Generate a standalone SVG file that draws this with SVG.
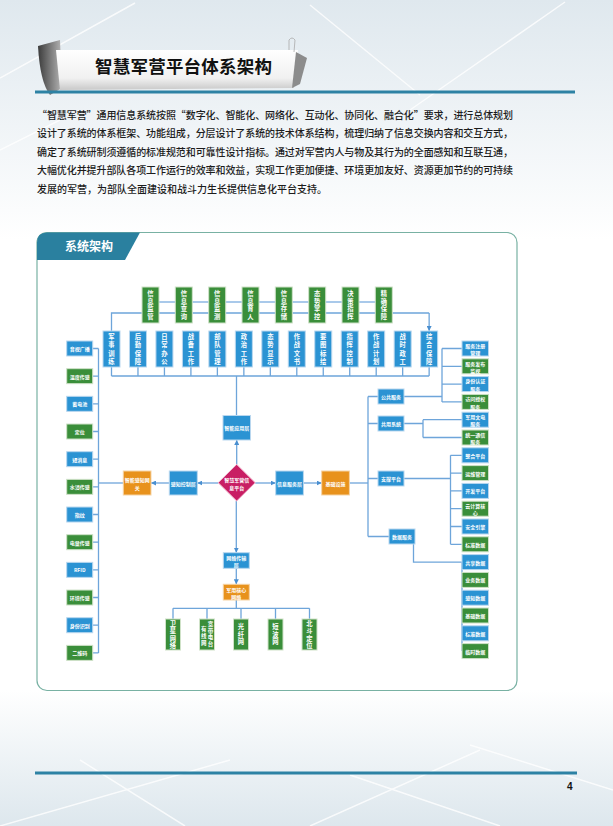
<svg xmlns="http://www.w3.org/2000/svg" width="613" height="826" viewBox="0 0 613 826">
<defs>
<style>
.b{fill:#2b93d3;stroke:#b9d7ef;stroke-width:1}
.g{fill:#3a8e3a;stroke:#cfe2c8;stroke-width:1}
.o{fill:#e8921c;stroke:#f6d3a3;stroke-width:1}
.m{fill:#c81e64;stroke:#f0b5cc;stroke-width:1}
.t,.t tspan{fill:#fff;font-family:"Noto Sans CJK SC","Noto Sans",sans-serif;font-size:5px;font-weight:700;text-anchor:middle;dominant-baseline:central}
.vt{fill:#fff;font-family:"Noto Sans CJK SC","Noto Sans",sans-serif;font-size:6.3px;font-weight:700;text-anchor:middle;writing-mode:vertical-rl;dominant-baseline:central}
.vt1{letter-spacing:1.2px}
.vt2{letter-spacing:2.2px}
.ln{stroke:#6ea5da;stroke-width:1.3;fill:none}
.arr{marker-end:url(#ah)}
.p{font-family:"Noto Sans CJK SC",sans-serif;font-size:10px;font-weight:500;fill:#1c1c1c}
</style>
<marker id="ah" viewBox="0 0 10 10" refX="10" refY="5" markerWidth="5" markerHeight="5" orient="auto" markerUnits="userSpaceOnUse"><path d="M0,0 L10,5 L0,10 z" fill="#4a8fd0"/></marker>
<linearGradient id="bgTop" x1="0" y1="0" x2="0" y2="1"><stop offset="0" stop-color="#dfe8ee"/><stop offset="1" stop-color="#ffffff"/></linearGradient>
<linearGradient id="bgBot" x1="0" y1="0" x2="0" y2="1"><stop offset="0" stop-color="#ffffff"/><stop offset="1" stop-color="#dde7ed"/></linearGradient>
<linearGradient id="band" x1="0" y1="0" x2="0" y2="1"><stop offset="0" stop-color="#ffffff"/><stop offset="0.7" stop-color="#f1f1f1"/><stop offset="1" stop-color="#c9c9c9"/></linearGradient>
<linearGradient id="curl" x1="0" y1="0" x2="1" y2="0"><stop offset="0" stop-color="#3c3c3c"/><stop offset="1" stop-color="#b5b5b5"/></linearGradient>
</defs>

<!-- background -->
<rect x="0" y="0" width="613" height="826" fill="#ffffff"/>
<rect x="0" y="0" width="613" height="240" fill="url(#bgTop)"/>
<rect x="0" y="690" width="613" height="136" fill="url(#bgBot)"/>
<g stroke="#ffffff" stroke-width="1.5" opacity="0.8">
<line x1="0" y1="78" x2="135" y2="3"/>
<line x1="310" y1="5" x2="420" y2="95"/>
<line x1="565" y1="2" x2="410" y2="110"/>
<line x1="0" y1="150" x2="60" y2="120"/>
<line x1="0" y1="826" x2="230" y2="760"/>
<line x1="80" y1="760" x2="185" y2="826"/>
<line x1="310" y1="826" x2="480" y2="750"/>
<line x1="350" y1="775" x2="500" y2="826"/>
<line x1="470" y1="745" x2="613" y2="790"/>
</g>

<!-- header banner -->
<g id="header">
<path d="M38,46 L60,40 L62,88 L50,95 Q40,82 38,46 Z" fill="url(#curl)"/>
<path d="M56,50 L298,50 L294,88 L60,90 Z" fill="url(#band)"/>
<path d="M296,52 L307,58 L300,84 L292,88 Z" fill="#8c8c8c"/>
<path d="M289,50 L289,40 Q292,36 295,40 L294,52" fill="none" stroke="#aaaaaa" stroke-width="0.8"/>
<text x="95" y="73" font-family="Noto Sans CJK SC,sans-serif" font-size="17.5" font-weight="700" fill="#111" textLength="177" lengthAdjust="spacing">智慧军营平台体系架构</text>
</g>
<line x1="35" y1="92" x2="575" y2="92" stroke="#2d82a4" stroke-width="3"/>

<!-- paragraph -->
<g id="paragraph">
<text class="p" x="37" y="118.5" textLength="476" lengthAdjust="spacing">“智慧军营”通用信息系统按照“数字化、智能化、网络化、互动化、协同化、融合化”要求，进行总体规划</text>
<text class="p" x="37" y="137" textLength="476" lengthAdjust="spacing">设计了系统的体系框架、功能组成，分层设计了系统的技术体系结构，梳理归纳了信息交换内容和交互方式，</text>
<text class="p" x="37" y="155.5" textLength="476" lengthAdjust="spacing">确定了系统研制须遵循的标准规范和可靠性设计指标。通过对军营内人与物及其行为的全面感知和互联互通，</text>
<text class="p" x="37" y="174" textLength="476" lengthAdjust="spacing">大幅优化并提升部队各项工作运行的效率和效益，实现工作更加便捷、环境更加友好、资源更加节约的可持续</text>
<text class="p" x="37" y="192.5">发展的军营，为部队全面建设和战斗力生长提供信息化平台支持。</text>
</g>

<!-- frame -->
<g id="frame">
<rect x="37" y="232.5" width="480" height="458" rx="10" fill="#ffffff" stroke="#78b1a3" stroke-width="1.2"/>
<path d="M37,260 L37,242.5 Q37,232.5 47,232.5 L140,232.5 L125,260 Z" fill="#2a809f"/>
<text x="65" y="251" font-family="Noto Sans CJK SC,sans-serif" font-size="12" font-weight="700" fill="#ffffff">系统架构</text>
</g>

<!-- connectors -->
<g id="connectors">
<line x1="159" y1="302" x2="376" y2="302" stroke="#a9c9ea" stroke-width="2"/>
<path class="ln" d="M111.5,331 V313 H429.14" stroke-width="1"/>
<line class="ln arr" x1="429.14" y1="313" x2="429.14" y2="331" stroke-width="1"/>
<path class="ln" d="M111.5,367V376M137.97,367V376M164.44,367V376M190.91,367V376M217.38,367V376M243.85,367V376M270.32,367V376M296.79,367V376M323.26,367V376M349.73,367V376M376.2,367V376M402.67,367V376M429.14,367V376M111.5,376H429.14"/>
<line class="ln" x1="236.5" y1="376" x2="236.5" y2="415.5"/>
<path class="ln" d="M98.5,348.5V652.9M92.7,348.5H98.5M92.7,376.2H98.5M92.7,403.8H98.5M92.7,431.5H98.5M92.7,459.2H98.5M92.7,486.9H98.5M92.7,514.5H98.5M92.7,542.2H98.5M92.7,569.9H98.5M92.7,597.5H98.5M92.7,625.2H98.5M92.7,652.9H98.5"/>
<line class="ln" x1="98.5" y1="483" x2="123.3" y2="483"/>
<line class="ln arr" x1="169.3" y1="483" x2="151" y2="483"/>
<line class="ln arr" x1="218.2" y1="483" x2="197.3" y2="483"/>
<line class="ln arr" x1="255.2" y1="483" x2="275.7" y2="483"/>
<line class="ln arr" x1="303.4" y1="483" x2="321.7" y2="483"/>
<line class="ln" x1="349.4" y1="483" x2="368" y2="483"/>
<line class="ln arr" x1="236.7" y1="464.4" x2="236.7" y2="440"/>
<line class="ln arr" x1="236.3" y1="501" x2="236.3" y2="552.7"/>
<line class="ln arr" x1="236.3" y1="568.3" x2="236.3" y2="584.3"/>
<path class="ln" d="M236.3,600V608.3M173,608.3H309.5M173,608.3V619M207,608.3V619M241,608.3V619M275.5,608.3V619M309.5,608.3V619"/>
<path class="ln" d="M368,396.5V536.5M368,396.5H378M368,423.5H378M368,478.5H378M368,536.5H389"/>
<path class="ln" d="M404,396.5H442M442,348.5V401.9M442,348.5H462M442,366.3H462M442,384.1H462M442,401.9H462"/>
<path class="ln" d="M404,423.5H423M423,419.7V437.5M423,419.7H462M423,437.5H462"/>
<path class="ln" d="M404,478.5H450.5M450.5,455.3V544.3M450.5,455.3H462M450.5,473.1H462M450.5,490.9H462M450.5,508.7H462M450.5,526.5H462M450.5,544.3H462"/>
<path class="ln" d="M413.5,536.5V562.1H462M462,562.1V651.1"/>
</g>

<!-- top green row -->
<g id="n_top1"><rect class="g" x="142" y="287" width="17" height="36"/><text class="vt vt1" x="150.5" y="305.6">信息监管</text></g>
<g id="n_top2"><rect class="g" x="175.3" y="287" width="17" height="36"/><text class="vt vt1" x="183.8" y="305.6">信息查询</text></g>
<g id="n_top3"><rect class="g" x="208.7" y="287" width="17" height="36"/><text class="vt vt1" x="217.2" y="305.6">信息监测</text></g>
<g id="n_top4"><rect class="g" x="242" y="287" width="17" height="36"/><text class="vt vt1" x="250.5" y="305.6">信息育人</text></g>
<g id="n_top5"><rect class="g" x="275.3" y="287" width="17" height="36"/><text class="vt vt1" x="283.8" y="305.6">信息存储</text></g>
<g id="n_top6"><rect class="g" x="308.7" y="287" width="17" height="36"/><text class="vt vt1" x="317.2" y="305.6">态势掌控</text></g>
<g id="n_top7"><rect class="g" x="342" y="287" width="17" height="36"/><text class="vt vt1" x="350.5" y="305.6">决策指挥</text></g>
<g id="n_top8"><rect class="g" x="375.3" y="287" width="17" height="36"/><text class="vt vt1" x="383.8" y="305.6">精确保障</text></g>

<!-- blue row -->
<g id="n_b1"><rect class="b" x="103" y="331" width="17" height="36"/><text class="vt vt2" x="111.5" y="350.1">军事训练</text></g>
<g id="n_b2"><rect class="b" x="129.47" y="331" width="17" height="36"/><text class="vt vt2" x="137.97" y="350.1">后勤保障</text></g>
<g id="n_b3"><rect class="b" x="155.94" y="331" width="17" height="36"/><text class="vt vt2" x="164.44" y="350.1">日常办公</text></g>
<g id="n_b4"><rect class="b" x="182.41" y="331" width="17" height="36"/><text class="vt vt2" x="190.91" y="350.1">战备工作</text></g>
<g id="n_b5"><rect class="b" x="208.88" y="331" width="17" height="36"/><text class="vt vt2" x="217.38" y="350.1">部队管理</text></g>
<g id="n_b6"><rect class="b" x="235.35" y="331" width="17" height="36"/><text class="vt vt2" x="243.85" y="350.1">政治工作</text></g>
<g id="n_b7"><rect class="b" x="261.82" y="331" width="17" height="36"/><text class="vt vt2" x="270.32" y="350.1">态势显示</text></g>
<g id="n_b8"><rect class="b" x="288.29" y="331" width="17" height="36"/><text class="vt vt2" x="296.79" y="350.1">作战文书</text></g>
<g id="n_b9"><rect class="b" x="314.76" y="331" width="17" height="36"/><text class="vt vt2" x="323.26" y="350.1">要图标绘</text></g>
<g id="n_b10"><rect class="b" x="341.23" y="331" width="17" height="36"/><text class="vt vt2" x="349.73" y="350.1">指挥控制</text></g>
<g id="n_b11"><rect class="b" x="367.7" y="331" width="17" height="36"/><text class="vt vt2" x="376.2" y="350.1">作战计划</text></g>
<g id="n_b12"><rect class="b" x="394.17" y="331" width="17" height="36"/><text class="vt vt2" x="402.67" y="350.1">战时政工</text></g>
<g id="n_b13"><rect class="b" x="420.64" y="331" width="17" height="36"/><text class="vt vt2" x="429.14" y="350.1">综合保障</text></g>

<!-- left column -->
<g id="n_l1"><rect class="b" x="66.7" y="341" width="26" height="15"/><text class="t" x="79.7" y="348.5">音视广播</text></g>
<g id="n_l2"><rect class="g" x="66.7" y="368.67" width="26" height="15"/><text class="t" x="79.7" y="376.17">温度传感</text></g>
<g id="n_l3"><rect class="b" x="66.7" y="396.34" width="26" height="15"/><text class="t" x="79.7" y="403.84">蓄电池</text></g>
<g id="n_l4"><rect class="g" x="66.7" y="424.01" width="26" height="15"/><text class="t" x="79.7" y="431.51">定位</text></g>
<g id="n_l5"><rect class="b" x="66.7" y="451.68" width="26" height="15"/><text class="t" x="79.7" y="459.18">短消息</text></g>
<g id="n_l6"><rect class="g" x="66.7" y="479.35" width="26" height="15"/><text class="t" x="79.7" y="486.85">水浸传感</text></g>
<g id="n_l7"><rect class="b" x="66.7" y="507.02" width="26" height="15"/><text class="t" x="79.7" y="514.52">指纹</text></g>
<g id="n_l8"><rect class="g" x="66.7" y="534.69" width="26" height="15"/><text class="t" x="79.7" y="542.19">电量传感</text></g>
<g id="n_l9"><rect class="b" x="66.7" y="562.36" width="26" height="15"/><text class="t" x="79.7" y="569.86">RFID</text></g>
<g id="n_l10"><rect class="g" x="66.7" y="590.03" width="26" height="15"/><text class="t" x="79.7" y="597.53">环境传感</text></g>
<g id="n_l11"><rect class="b" x="66.7" y="617.7" width="26" height="15"/><text class="t" x="79.7" y="625.2">身份识别</text></g>
<g id="n_l12"><rect class="g" x="66.7" y="645.37" width="26" height="15"/><text class="t" x="79.7" y="652.87">二维码</text></g>

<!-- center -->
<g id="n_app"><rect class="b" x="223" y="415.5" width="27.5" height="24.5"/><text class="t" x="236.7" y="427.75">智能应用层</text></g>
<g id="n_gateway"><rect class="o" x="123.3" y="471" width="27.7" height="24"/><text class="t"><tspan x="137.15" y="479">智能感知网</tspan><tspan x="137.15" y="486.5">关</tspan></text></g>
<g id="n_sense"><rect class="b" x="169.3" y="471" width="28" height="24"/><text class="t" x="183.3" y="483">感知控制层</text></g>
<g id="n_core"><path class="m" d="M236.7,464.4 L255.2,482.7 L236.7,501 L218.2,482.7 Z"/><text class="t"><tspan x="236.7" y="479">智慧军营信</tspan><tspan x="236.7" y="486.5">息平台</tspan></text></g>
<g id="n_info"><rect class="b" x="275.7" y="471" width="27.7" height="24"/><text class="t" x="289.55" y="483">信息服务层</text></g>
<g id="n_infra"><rect class="o" x="321.7" y="471" width="27.7" height="24"/><text class="t" x="335.55" y="483">基础设施</text></g>
<g id="n_net"><rect class="b" x="223.3" y="552.7" width="26" height="15.6"/><text class="t"><tspan x="236.3" y="556.9">网络传输</tspan><tspan x="236.3" y="564.2">层</tspan></text></g>
<g id="n_corenet"><rect class="o" x="223.3" y="584.3" width="26" height="15.7"/><text class="t"><tspan x="236.3" y="588.5">军用核心</tspan><tspan x="236.3" y="595.8">网络</tspan></text></g>

<!-- bottom green -->
<g id="n_n1"><rect class="g" x="165.5" y="619" width="15" height="31"/><text class="vt vt1" x="173" y="635.1">卫星网络</text></g>
<g id="n_n2"><rect class="g" x="199.5" y="619" width="15" height="31"/><text class="vt" style="font-size:5.5px;letter-spacing:1.2px" x="210.5" y="634.6">宽带电台</text><text class="vt" style="font-size:5.5px;letter-spacing:1.2px" x="203.8" y="636.6">有线网</text></g>
<g id="n_n3"><rect class="g" x="233.5" y="619" width="15" height="31"/><text class="vt vt1" x="241" y="635.1">光纤网</text></g>
<g id="n_n4"><rect class="g" x="268" y="619" width="15" height="31"/><text class="vt vt1" x="275.5" y="635.1">短波网</text></g>
<g id="n_n5"><rect class="g" x="302" y="619" width="15" height="31"/><text class="vt vt1" x="309.5" y="635.1">北斗定位</text></g>

<!-- middle right -->
<g id="n_pub"><rect class="b" x="378" y="389" width="26" height="15"/><text class="t" x="391" y="396.5">公共服务</text></g>
<g id="n_share"><rect class="b" x="378" y="416" width="26" height="15"/><text class="t" x="391" y="423.5">共用系统</text></g>
<g id="n_support"><rect class="b" x="378" y="471" width="26" height="15"/><text class="t" x="391" y="478.5">支撑平台</text></g>
<g id="n_data"><rect class="b" x="389" y="529" width="26" height="15"/><text class="t" x="402" y="536.5">数据服务</text></g>

<!-- right column -->
<g id="n_r1"><rect class="b" x="462" y="341" width="26.5" height="15"/><text class="t"><tspan x="475.25" y="344.8">服务注册</tspan><tspan x="475.25" y="352.1">管理</tspan></text></g>
<g id="n_r2"><rect class="g" x="462" y="358.8" width="26.5" height="15"/><text class="t"><tspan x="475.25" y="362.6">服务发布</tspan><tspan x="475.25" y="369.9">监视</tspan></text></g>
<g id="n_r3"><rect class="b" x="462" y="376.6" width="26.5" height="15"/><text class="t"><tspan x="475.25" y="380.4">身份认证</tspan><tspan x="475.25" y="387.7">服务</tspan></text></g>
<g id="n_r4"><rect class="g" x="462" y="394.4" width="26.5" height="15"/><text class="t"><tspan x="475.25" y="398.2">访问授权</tspan><tspan x="475.25" y="405.5">服务</tspan></text></g>
<g id="n_r5"><rect class="b" x="462" y="412.2" width="26.5" height="15"/><text class="t"><tspan x="475.25" y="416">军用文电</tspan><tspan x="475.25" y="423.3">服务</tspan></text></g>
<g id="n_r6"><rect class="g" x="462" y="430" width="26.5" height="15"/><text class="t"><tspan x="475.25" y="433.8">统一通信</tspan><tspan x="475.25" y="441.1">服务</tspan></text></g>
<g id="n_r7"><rect class="b" x="462" y="447.8" width="26.5" height="15"/><text class="t" x="475.25" y="455.3">整合平台</text></g>
<g id="n_r8"><rect class="g" x="462" y="465.6" width="26.5" height="15"/><text class="t" x="475.25" y="473.1">运维管理</text></g>
<g id="n_r9"><rect class="b" x="462" y="483.4" width="26.5" height="15"/><text class="t" x="475.25" y="490.9">开发平台</text></g>
<g id="n_r10"><rect class="g" x="462" y="501.2" width="26.5" height="15"/><text class="t"><tspan x="475.25" y="505">云计算核</tspan><tspan x="475.25" y="512.3">心</tspan></text></g>
<g id="n_r11"><rect class="b" x="462" y="519" width="26.5" height="15"/><text class="t" x="475.25" y="526.5">安全引擎</text></g>
<g id="n_r12"><rect class="g" x="462" y="536.8" width="26.5" height="15"/><text class="t" x="475.25" y="544.3">标准数据</text></g>
<g id="n_r13"><rect class="b" x="462" y="554.6" width="26.5" height="15"/><text class="t" x="475.25" y="562.1">共享数据</text></g>
<g id="n_r14"><rect class="g" x="462" y="572.4" width="26.5" height="15"/><text class="t" x="475.25" y="579.9">业务数据</text></g>
<g id="n_r15"><rect class="b" x="462" y="590.2" width="26.5" height="15"/><text class="t" x="475.25" y="597.7">感知数据</text></g>
<g id="n_r16"><rect class="g" x="462" y="608" width="26.5" height="15"/><text class="t" x="475.25" y="615.5">基础数据</text></g>
<g id="n_r17"><rect class="b" x="462" y="625.8" width="26.5" height="15"/><text class="t" x="475.25" y="633.3">标准数据</text></g>
<g id="n_r18"><rect class="g" x="462" y="643.6" width="26.5" height="15"/><text class="t" x="475.25" y="651.1">临时数据</text></g>

<!-- footer -->
<line x1="35" y1="773" x2="577" y2="773" stroke="#2d82a4" stroke-width="3"/>
<text x="567" y="790" font-family="Liberation Sans,Arial,sans-serif" font-size="10" font-weight="700" fill="#111">4</text>
</svg>
